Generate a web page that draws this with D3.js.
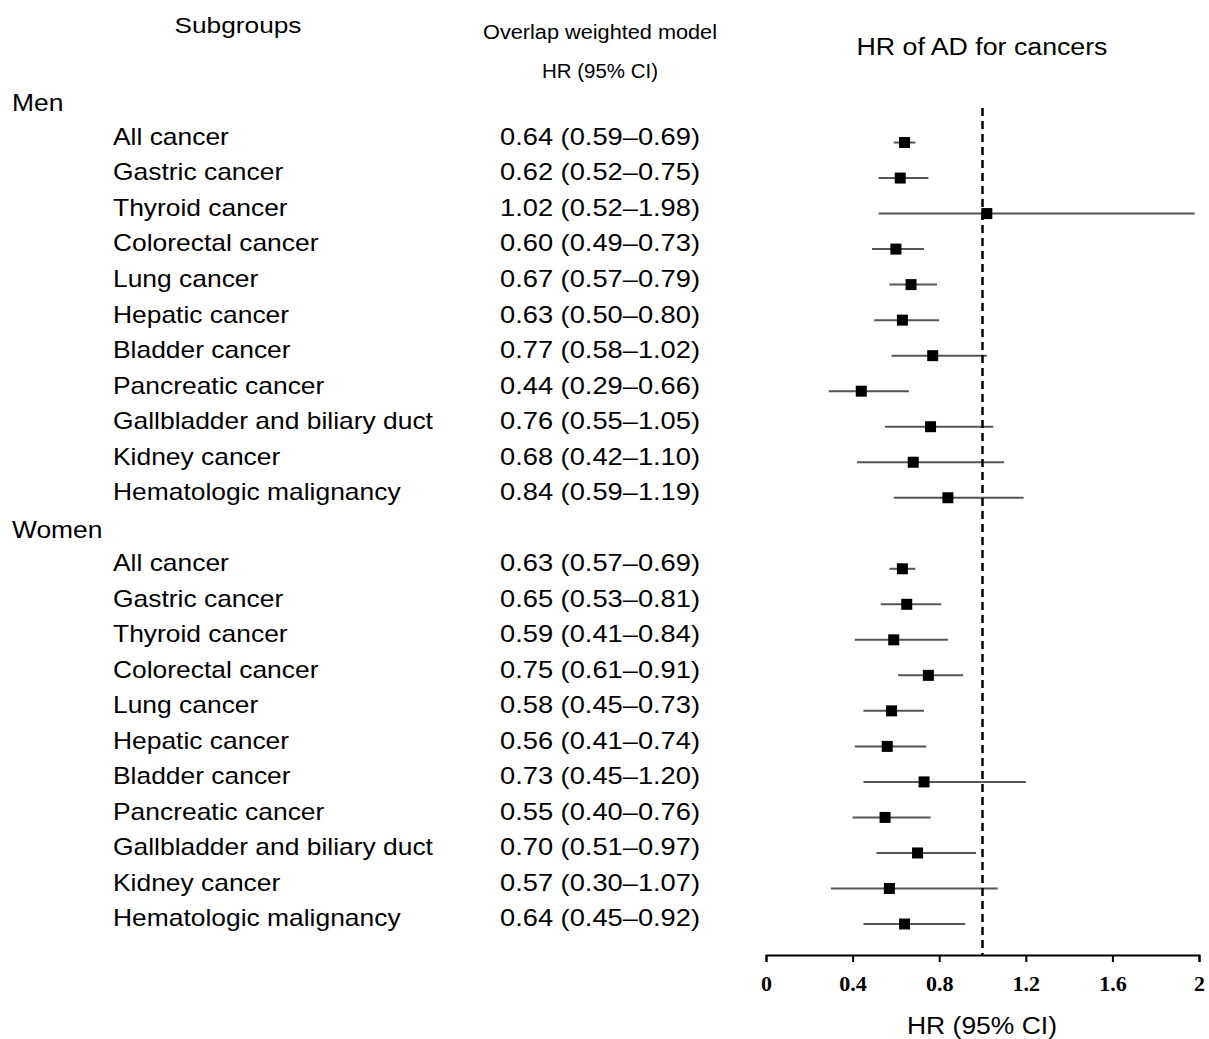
<!DOCTYPE html>
<html>
<head>
<meta charset="utf-8">
<script src="https://cdn.jsdelivr.net/npm/d3@7"></script>
<style>
  body { margin: 0; background: #fff; }
  text { font-family: "Liberation Sans", Arial, sans-serif; fill: #000; }
</style>
</head>
<body>
<svg width="1209" height="1039"></svg>
<script>
// rows of the table, top to bottom (group headers have no values)
var groups = ["Men", "Women"];
var subgroups = ["All cancer", "Gastric cancer", "Thyroid cancer", "Colorectal cancer",
    "Lung cancer", "Hepatic cancer", "Bladder cancer", "Pancreatic cancer",
    "Gallbladder and biliary duct", "Kidney cancer", "Hematologic malignancy"];

var hrMen    = [0.64, 0.62, 1.02, 0.60, 0.67, 0.63, 0.77, 0.44, 0.76, 0.68, 0.84];
var lowMen   = [0.59, 0.52, 0.52, 0.49, 0.57, 0.50, 0.58, 0.29, 0.55, 0.42, 0.59];
var highMen  = [0.69, 0.75, 1.98, 0.73, 0.79, 0.80, 1.02, 0.66, 1.05, 1.10, 1.19];

var hrWomen   = [0.63, 0.65, 0.59, 0.75, 0.58, 0.56, 0.73, 0.55, 0.70, 0.57, 0.64];
var lowWomen  = [0.57, 0.53, 0.41, 0.61, 0.45, 0.41, 0.45, 0.40, 0.51, 0.30, 0.45];
var highWomen = [0.69, 0.81, 0.84, 0.91, 0.73, 0.74, 1.20, 0.76, 0.97, 1.07, 0.92];

var xTicks = [0, 0.4, 0.8, 1.2, 1.6, 2];

var svg = d3.select("svg");

// the original text is a bit wider than Arial, stretch it
function stretch(sel, k) {
    sel.each(function() {
        var w = this.getComputedTextLength();
        d3.select(this).attr("textLength", w * k).attr("lengthAdjust", "spacingAndGlyphs");
    });
}

// build row table
var rows = [];
var hrs = [hrMen, hrWomen], lows = [lowMen, lowWomen], highs = [highMen, highWomen];
groups.forEach(function(g, gi) {
    rows.push({label: g, header: true});
    subgroups.forEach(function(s, i) {
        rows.push({label: s, hr: hrs[gi][i], low: lows[gi][i], high: highs[gi][i]});
    });
});

var yScale = d3.scaleLinear().domain([0, rows.length - 1]).range([101, 918]);
var xScale = d3.scaleLinear().domain([0, 2]).range([766, 1199]);
var axisY = 955;
var fmt = d3.format(".2f");

// headers
svg.append("text").attr("x", 238).attr("y", 33).attr("text-anchor", "middle")
    .style("font-size", "22px").attr("textLength", 127).attr("lengthAdjust", "spacingAndGlyphs")
    .text("Subgroups");
svg.append("text").attr("x", 600).attr("y", 39).attr("text-anchor", "middle")
    .style("font-size", "20px").attr("textLength", 234).attr("lengthAdjust", "spacingAndGlyphs")
    .text("Overlap weighted model");
svg.append("text").attr("x", 600).attr("y", 78).attr("text-anchor", "middle")
    .style("font-size", "20px").attr("textLength", 116).attr("lengthAdjust", "spacingAndGlyphs")
    .text("HR (95% CI)");
svg.append("text").attr("x", 982).attr("y", 55).attr("text-anchor", "middle")
    .style("font-size", "23px").attr("textLength", 251).attr("lengthAdjust", "spacingAndGlyphs")
    .text("HR of AD for cancers");

// text columns
var row = svg.selectAll(".row").data(rows).enter().append("g").attr("class", "row");
row.append("text")
    .attr("x", function(d) { return d.header ? 12 : 113; })
    .attr("y", function(d, i) { return yScale(i) + (d.header ? 2 : 0); })
    .attr("dy", "0.35em")
    .style("font-size", "24px")
    .text(function(d) { return d.label; })
    .call(stretch, 1.1);
row.filter(function(d) { return !d.header; }).append("text")
    .attr("x", 500)
    .attr("y", function(d) { return yScale(rows.indexOf(d)); })
    .attr("dy", "0.35em")
    .style("font-size", "24px")
    .attr("textLength", 200).attr("lengthAdjust", "spacingAndGlyphs")
    .text(function(d) { return fmt(d.hr) + " (" + fmt(d.low) + "\u2013" + fmt(d.high) + ")"; });

// reference line at HR = 1
svg.append("line")
    .attr("x1", xScale(1)).attr("x2", xScale(1))
    .attr("y1", 108).attr("y2", axisY)
    .attr("stroke", "#000").attr("stroke-width", 2.5)
    .attr("stroke-dasharray", "8,5");

// CI lines and squares
var pts = row.filter(function(d) { return !d.header; });
pts.append("line")
    .attr("x1", function(d) { return xScale(d.low); })
    .attr("x2", function(d) { return xScale(d.high); })
    .attr("y1", function(d) { return yScale(rows.indexOf(d)) + 6; })
    .attr("y2", function(d) { return yScale(rows.indexOf(d)) + 6; })
    .attr("stroke", "#555").attr("stroke-width", 2);
pts.append("rect")
    .attr("x", function(d) { return xScale(d.hr) - 5.5; })
    .attr("y", function(d) { return yScale(rows.indexOf(d)) + 6 - 5.5; })
    .attr("width", 11).attr("height", 11)
    .attr("fill", "#000");

// x axis
var axis = svg.append("g")
    .attr("transform", "translate(0," + axisY + ")")
    .call(d3.axisBottom(xScale).tickValues(xTicks).tickSize(7).tickSizeOuter(7)
        .tickFormat(function(d) { return d; }));
axis.select(".domain").attr("stroke", "#000").attr("stroke-width", 2);
axis.selectAll(".tick line").attr("stroke", "#000").attr("stroke-width", 2);
axis.selectAll(".tick text")
    .attr("y", 20)
    .style("font-family", "'Liberation Serif', 'Times New Roman', serif")
    .style("font-weight", "bold")
    .style("font-size", "22px");

svg.append("text").attr("x", 982).attr("y", 1034).attr("text-anchor", "middle")
    .style("font-size", "23px").attr("textLength", 150).attr("lengthAdjust", "spacingAndGlyphs")
    .text("HR (95% CI)");
</script>
</body>
</html>
